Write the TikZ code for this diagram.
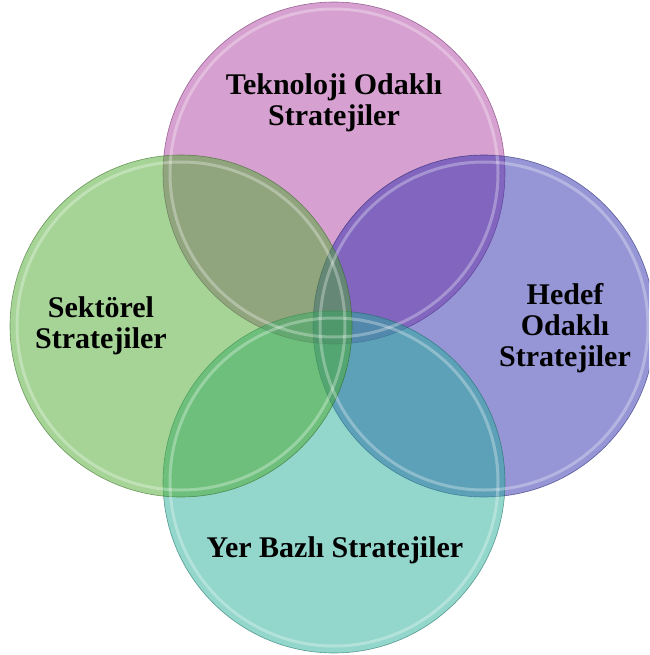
\documentclass[tikz,border=0pt]{standalone}
\usepackage{fontspec}
\setmainfont{Liberation Serif}
\definecolor{techpink}{RGB}{173,65,161}
\definecolor{sectorgreen}{RGB}{75,169,45}
\definecolor{targetblue}{RGB}{45,45,173}
\definecolor{placeteal}{RGB}{37,173,153}
\tikzset{
  bubble/.style={circle, minimum size=342pt, inner sep=0pt, line width=0.6pt, fill opacity=0.5, draw opacity=0.6},
  rim/.style={white, line width=3pt, opacity=0.3},
  caption/.style={font=\fontsize{30}{31}\selectfont\bfseries, align=center}
}
\begin{document}
\begin{tikzpicture}[x=1pt, y=-1pt]
	\useasboundingbox (0, 0) rectangle (649, 655);
	\clip (0, 0) rectangle (649, 655);
	% the four circles, half transparent
	\node[bubble, fill=techpink, draw=techpink!60!black] (tech) at (334, 173) {};
	\node[bubble, fill=targetblue, draw=targetblue!60!black] (target) at (484, 326) {};
	\node[bubble, fill=placeteal, draw=placeteal!60!black] (place) at (334, 482) {};
	\node[bubble, fill=sectorgreen, draw=sectorgreen!60!black] (sector) at (181, 326) {};
	% glossy inner rims
	\draw[rim] (tech.center) circle (164);
	\draw[rim] (target.center) circle (164);
	\draw[rim] (place.center) circle (164);
	\draw[rim] (sector.center) circle (164);
	% labels
	\node[caption] (techtext) at (334, 103) {Teknoloji Odaklı\\Stratejiler};
	\node[caption] (sectortext) at (101, 326) {Sektörel\\Stratejiler};
	\node[caption] (targettext) at (565, 328) {Hedef\\Odaklı\\Stratejiler};
	\node[caption] (placetext) at (335, 550) {Yer Bazlı Stratejiler};
\end{tikzpicture}
\end{document}
